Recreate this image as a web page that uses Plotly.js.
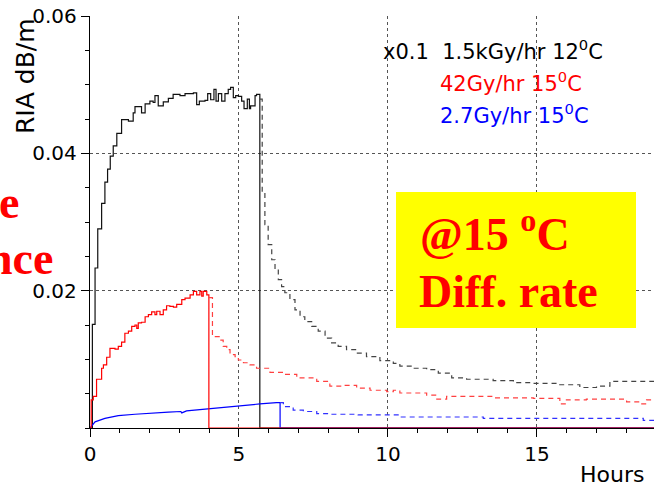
<!DOCTYPE html>
<html>
<head>
<meta charset="utf-8">
<script src="https://cdn.plot.ly/plotly-3.0.1.min.js"></script>
<style>
  html, body { margin: 0; padding: 0; overflow: hidden; background: #fff; }
  #chart { width: 654px; height: 486px; }
</style>
</head>
<body>
<div id="chart"></div>
<script>
// ---- Data (hours vs RIA dB/m) ----
// Black: x0.1 1.5kGy/hr 12°C, irradiation (solid histogram)
const hoursBlackOn = [0, 0.08, 0.17, 0.26, 0.39, 0.50, 0.59, 0.68, 0.78, 0.90, 1.06, 1.29, 1.45, 1.51, 1.73, 1.85, 2.01, 2.12, 2.18, 2.29, 2.46, 2.63, 2.79, 3.02, 3.19, 3.47, 3.58, 3.67, 3.86, 3.95, 4.05, 4.16, 4.23, 4.31, 4.42, 4.53, 4.64, 4.72, 4.81, 4.89, 4.98, 5.09, 5.17, 5.28, 5.35, 5.39, 5.54, 5.59, 5.70, 18.93];
const riaBlackOn   = [0, 0.0151, 0.0233, 0.0290, 0.0327, 0.0358, 0.0377, 0.0396, 0.0411, 0.0429, 0.0449, 0.0447, 0.0459, 0.0468, 0.0459, 0.0472, 0.0476, 0.0474, 0.0484, 0.0469, 0.0475, 0.0480, 0.0486, 0.0484, 0.0487, 0.0488, 0.0471, 0.0476, 0.0477, 0.0487, 0.0478, 0.0493, 0.0476, 0.0487, 0.0476, 0.0487, 0.0493, 0.0496, 0.0481, 0.0484, 0.0483, 0.0476, 0.0465, 0.0479, 0.0465, 0.0469, 0.0484, 0.0486, 0, 0];
// Black: recovery (dashed histogram)
const hoursBlackOff = [5.70, 5.78, 5.87, 5.98, 6.10, 6.21, 6.32, 6.43, 6.54, 6.71, 6.88, 7.05, 7.21, 7.44, 7.66, 7.89, 8.11, 8.33, 8.61, 8.95, 9.28, 9.73, 10.18, 10.40, 10.85, 11.30, 11.69, 12.14, 12.64, 13.53, 14.21, 14.88, 15.66, 16.44, 17.00, 17.45, 18.93];
const riaBlackOff   = [0.0479, 0.0343, 0.0296, 0.0267, 0.0245, 0.0231, 0.0216, 0.0206, 0.0197, 0.0187, 0.0172, 0.0162, 0.0155, 0.0148, 0.0141, 0.0131, 0.0124, 0.0119, 0.0114, 0.0109, 0.0104, 0.0098, 0.0094, 0.0090, 0.0087, 0.0085, 0.0080, 0.0073, 0.0071, 0.0069, 0.0066, 0.0065, 0.0063, 0.0059, 0.0061, 0.0068, 0.0068];

// Red: 42Gy/hr 15°C, irradiation
const hoursRedOn = [0, 0.04, 0.11, 0.22, 0.39, 0.45, 0.56, 0.67, 0.84, 0.95, 1.06, 1.17, 1.29, 1.40, 1.51, 1.57, 1.62, 1.73, 1.85, 1.96, 2.07, 2.18, 2.24, 2.35, 2.46, 2.57, 2.68, 2.80, 2.91, 3.08, 3.19, 3.36, 3.47, 3.58, 3.69, 3.75, 3.80, 3.92, 3.99, 18.93];
const riaRedOn   = [0, 0.0041, 0.0046, 0.0071, 0.0087, 0.0092, 0.0103, 0.0116, 0.0115, 0.0119, 0.0125, 0.0138, 0.0141, 0.0148, 0.0150, 0.0145, 0.0153, 0.0154, 0.0162, 0.0165, 0.0169, 0.0165, 0.0170, 0.0165, 0.0172, 0.0178, 0.0177, 0.0176, 0.0180, 0.0187, 0.0189, 0.0194, 0.0199, 0.0194, 0.0199, 0.0192, 0.0199, 0.0194, 0, 0];
// Red: recovery
const hoursRedOff = [3.99, 4.11, 4.36, 4.47, 4.59, 4.70, 4.87, 4.98, 5.15, 5.37, 5.59, 6.04, 6.49, 6.94, 7.61, 8.05, 8.50, 8.95, 9.40, 9.96, 10.18, 10.40, 11.30, 11.64, 11.97, 13.53, 14.88, 15.77, 15.99, 16.66, 18.01, 18.46, 18.68, 18.93];
const riaRedOff   = [0.0190, 0.0133, 0.0128, 0.0119, 0.0114, 0.0107, 0.0104, 0.0099, 0.0095, 0.0092, 0.0087, 0.0081, 0.0078, 0.0073, 0.0068, 0.0061, 0.0062, 0.0058, 0.0055, 0.0053, 0.0055, 0.0051, 0.0048, 0.0042, 0.0046, 0.0044, 0.0043, 0.0035, 0.0041, 0.0042, 0.0038, 0.0035, 0.0041, 0.0041];

// Blue: 2.7Gy/hr 15°C, irradiation
const hoursBlueOn = [0, 0.17, 0.50, 0.95, 1.51, 2.07, 2.63, 3.05, 3.08, 3.24, 3.69, 4.14, 4.59, 5.15, 5.70, 6.26, 6.38, 6.38, 18.93];
const riaBlueOn   = [0, 0.0009, 0.0014, 0.0018, 0.0020, 0.0021, 0.0023, 0.0024, 0.0022, 0.0025, 0.0027, 0.0029, 0.0031, 0.0033, 0.0035, 0.0037, 0.0037, 0, 0];
// Blue: recovery
const hoursBlueOff = [6.38, 6.49, 6.82, 7.16, 7.61, 8.05, 9.00, 10.40, 13.20, 18.57, 18.93];
const riaBlueOff   = [0.0037, 0.0031, 0.0026, 0.0024, 0.0021, 0.0020, 0.0019, 0.0016, 0.0014, 0.0011, 0.0011];

// Axis ticks
const xTickVals = [0, 5, 10, 15];
const xTickText = ['0', '5', '10', '15'];
const yTickVals = [0.02, 0.04, 0.06];
const yTickText = ['0.02', '0.04', '0.06'];

// Legend labels
const seriesLabels = ['x0.1  1.5kGy/hr 12<sup>0</sup>C', '42Gy/hr 15<sup>0</sup>C', '2.7Gy/hr 15<sup>0</sup>C'];

// ---- Geometry helpers (pixel -> paper) ----
const W = 654, H = 486, ML = 90, MR = 0, MT = 16, MB = 58;
const PW = W - ML - MR, PH = H - MT - MB;
const px = v => (v - ML) / PW;
const py = v => (H - MB - v) / PH;

const sans = 'DejaVu Sans, Liberation Sans, Arial, sans-serif';
const serif = 'Liberation Serif, Times New Roman, serif';
const dashed = '5px,4px';

const traces = [
  {x: hoursBlackOn, y: riaBlackOn, mode: 'lines', line: {color: '#111', width: 1.2, shape: 'hv'}},
  {x: hoursBlueOn, y: riaBlueOn, mode: 'lines', line: {color: '#0000ff', width: 1.2, shape: 'linear'}},
  {x: hoursRedOn, y: riaRedOn, mode: 'lines', line: {color: '#ff0000', width: 1.2, shape: 'hv'}},
  {x: hoursBlackOff, y: riaBlackOff, mode: 'lines', line: {color: '#444', width: 1.2, shape: 'hv', dash: dashed}},
  {x: hoursRedOff, y: riaRedOff, mode: 'lines', line: {color: '#ff4040', width: 1.2, shape: 'hv', dash: dashed}},
  {x: hoursBlueOff, y: riaBlueOff, mode: 'lines', line: {color: '#3030ff', width: 1.2, shape: 'hv', dash: dashed}}
];

const layout = {
  width: W, height: H,
  margin: {l: ML, r: MR, t: MT, b: MB, pad: 0},
  paper_bgcolor: '#fff', plot_bgcolor: '#fff',
  showlegend: false,
  xaxis: {
    range: [0, 18.93], tickmode: 'array', tickvals: xTickVals, ticktext: xTickText,
    ticks: 'outside', ticklen: 8, tickcolor: '#000', tickwidth: 1,
    showline: true, linecolor: '#000', linewidth: 1.2, zeroline: false,
    showgrid: true, gridcolor: '#555', griddash: 'dot', gridwidth: 1,
    minor: {dtick: 1, tick0: 0, ticks: 'outside', ticklen: 4, tickcolor: '#000', showgrid: false},
    tickfont: {family: sans, size: 20, color: '#000'}
  },
  yaxis: {
    range: [0, 0.06], tickmode: 'array', tickvals: yTickVals, ticktext: yTickText,
    ticks: 'outside', ticklen: 8, tickcolor: '#000', tickwidth: 1,
    showline: true, linecolor: '#000', linewidth: 1.2, zeroline: false,
    showgrid: true, gridcolor: '#555', griddash: 'dot', gridwidth: 1,
    minor: {dtick: 0.005, tick0: 0, ticks: 'outside', ticklen: 4, tickcolor: '#000', showgrid: false},
    tickfont: {family: sans, size: 20, color: '#000'}
  },
  shapes: [
    {type: 'rect', xref: 'paper', yref: 'paper', x0: px(396), x1: px(636), y0: py(328), y1: py(192),
     fillcolor: '#ffff00', line: {width: 0}, layer: 'above'}
  ],
  annotations: [
    {xref: 'paper', yref: 'paper', x: px(25), y: py(76), text: 'RIA dB/m', textangle: -90,
     showarrow: false, xanchor: 'center', yanchor: 'middle', font: {family: sans, size: 25, color: '#000'}},
    {xref: 'paper', yref: 'paper', x: px(578), y: py(474), text: 'Hours',
     showarrow: false, xanchor: 'left', yanchor: 'middle', font: {family: sans, size: 22, color: '#000'}},
    {xref: 'paper', yref: 'paper', x: px(381), y: py(50), text: seriesLabels[0],
     showarrow: false, xanchor: 'left', yanchor: 'middle', font: {family: sans, size: 21, color: '#000'}},
    {xref: 'paper', yref: 'paper', x: px(438), y: py(82), text: seriesLabels[1],
     showarrow: false, xanchor: 'left', yanchor: 'middle', font: {family: sans, size: 21, color: '#ff0000'}},
    {xref: 'paper', yref: 'paper', x: px(438), y: py(114), text: seriesLabels[2],
     showarrow: false, xanchor: 'left', yanchor: 'middle', font: {family: sans, size: 21, color: '#0000ff'}},
    {xref: 'paper', yref: 'paper', x: px(495), y: py(231), text: '@15 <sup>o</sup>C',
     showarrow: false, xanchor: 'center', yanchor: 'middle', font: {family: serif, size: 46, color: '#ff0000', weight: 'bold'}},
    {xref: 'paper', yref: 'paper', x: px(508), y: py(291), text: 'Diff. rate',
     showarrow: false, xanchor: 'center', yanchor: 'middle', font: {family: serif, size: 46, color: '#ff0000', weight: 'bold'}},
    {xref: 'paper', yref: 'paper', x: px(21), y: py(202), text: 'e',
     showarrow: false, xanchor: 'right', yanchor: 'middle', font: {family: serif, size: 46, color: '#ff0000', weight: 'bold'}},
    {xref: 'paper', yref: 'paper', x: px(55), y: py(258), text: 'nce',
     showarrow: false, xanchor: 'right', yanchor: 'middle', font: {family: serif, size: 46, color: '#ff0000', weight: 'bold'}}
  ]
};

Plotly.newPlot('chart', traces, layout, {staticPlot: true, displayModeBar: false});
</script>
</body>
</html>
